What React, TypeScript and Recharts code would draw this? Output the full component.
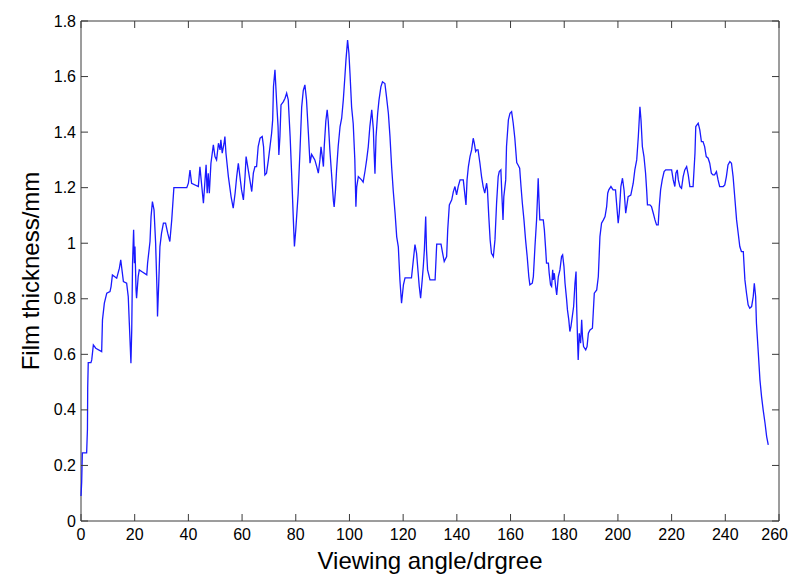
import React from 'react';
import { LineChart, Line, XAxis, YAxis, ReferenceArea } from 'recharts';

/* -------------------------------------------------------
   DATA
-------------------------------------------------------- */
const angle: number[] = [
  0, 0.25, 0.5, 2.1, 2.4, 2.5, 2.7, 3.7, 4.0, 4.6, 5.5, 7.7, 8.0, 8.7, 9.6, 10.8, 11.2, 11.7, 13.3, 14.3,
  14.8, 15.8, 17.0, 17.6, 18.0, 18.6, 18.9, 19.2, 19.6, 19.9, 20.1, 20.5, 20.7, 21.3, 21.7, 22.6, 24.5, 24.8, 25.7, 26.1,
  26.6, 27.2, 27.8, 28.4, 28.5, 29.0, 29.4, 30.0, 30.7, 31.5, 32.3, 33.1, 33.8, 34.6, 39.4, 40.0, 40.6, 41.2, 43.7, 44.3,
  45.6, 46.2, 46.6, 47.0, 47.4, 47.8, 48.4, 49.3, 49.9, 50.5, 51.2, 51.8, 52.1, 52.6, 53.3, 53.6, 54.0, 54.9, 55.9, 56.7,
  57.4, 58.0, 58.6, 59.2, 59.8, 60.5, 61.1, 61.5, 62.3, 62.9, 63.6, 64.2, 64.8, 65.4, 66.0, 66.7, 67.5, 68.0, 68.5, 69.1,
  69.8, 70.4, 71.0, 71.4, 71.7, 72.25, 72.9, 73.4, 73.7, 74.1, 74.5, 75.4, 76.0, 76.6, 77.2, 77.9, 78.5, 79.1, 79.5, 80.0,
  80.9, 81.6, 82.2, 82.8, 83.4, 84.0, 84.7, 85.3, 85.9, 86.5, 87.1, 87.8, 88.4, 89.0, 89.4, 89.9, 90.3, 90.6, 91.2, 91.7,
  92.1, 92.7, 93.4, 94.0, 94.3, 94.8, 95.2, 95.8, 96.5, 97.1, 97.7, 98.3, 98.7, 99.3, 99.8, 100.2, 100.8, 101.4, 102.0, 102.4,
  102.7, 103.3, 104.5, 105.1, 105.8, 106.4, 107.0, 107.6, 108.3, 108.9, 109.1, 109.5, 109.9, 110.5, 111.0, 111.7, 112.3, 113.2, 113.8, 114.5,
  115.1, 115.7, 116.3, 117.0, 117.6, 118.2, 118.8, 119.4, 120.1, 120.7, 123.1, 123.8, 124.4, 125.0, 125.6, 126.0, 126.5, 127.1, 127.5, 127.9,
  128.4, 128.7, 129.1, 130.0, 131.9, 132.5, 134.1, 134.7, 135.3, 136.2, 136.6, 137.2, 138.1, 138.7, 139.3, 139.9, 140.5, 141.2, 142.4, 143.0,
  143.4, 143.8, 144.3, 144.9, 145.5, 146.1, 146.5, 147.0, 147.4, 147.9, 148.6, 149.2, 149.8, 150.4, 151.1, 151.4, 151.9, 152.4, 152.9, 153.6,
  154.2, 154.8, 155.4, 155.8, 156.4, 156.8, 157.2, 157.5, 158.2, 158.5, 159.2, 159.8, 160.4, 161.0, 161.6, 162.3, 162.9, 163.4, 163.9, 164.4,
  165.0, 165.6, 166.2, 166.8, 167.2, 168.1, 168.5, 169.1, 169.7, 170.1, 170.3, 170.6, 170.9, 172.2, 172.6, 173.1, 173.4, 174.1, 174.4, 174.9,
  175.3, 175.7, 175.9, 176.3, 176.8, 177.2, 177.8, 178.4, 179.0, 179.4, 179.9, 180.3, 180.9, 181.2, 181.7, 182.1, 182.5, 183.0, 183.5, 184.0,
  184.4, 184.6, 185.0, 185.2, 185.6, 186.1, 186.5, 186.8, 187.2, 188.0, 188.5, 189.0, 189.6, 190.5, 190.8, 191.2, 192.1, 192.7, 193.3, 193.9,
  194.6, 195.2, 195.8, 196.2, 196.6, 197.4, 198.2, 199.1, 199.5, 200.1, 200.5, 201.1, 201.7, 202.3, 202.9, 203.8, 204.8, 205.7, 206.3, 207.0,
  207.6, 208.2, 208.6, 209.1, 209.7, 210.3, 210.7, 211.0, 211.9, 212.5, 213.2, 213.8, 214.4, 215.0, 215.4, 215.9, 216.5, 217.2, 217.8, 220.0,
  220.6, 221.2, 221.6, 222.1, 222.5, 223.1, 223.7, 224.3, 224.9, 225.6, 226.2, 226.8, 228.0, 228.7, 229.0, 229.9, 230.5, 231.1, 231.7, 232.3,
  232.9, 233.6, 234.2, 234.8, 235.4, 236.0, 236.7, 237.3, 237.9, 239.2, 239.8, 240.4, 241.0, 241.7, 242.3, 242.9, 243.5, 244.2, 244.8, 245.4,
  246.0, 246.7, 247.3, 247.9, 248.5, 249.1, 249.8, 250.4, 250.8, 251.3, 251.6, 252.3, 252.9, 253.5, 254.1, 254.8, 255.4, 256.0,
];

const thickness: number[] = [
  0.09, 0.14, 0.245, 0.245, 0.33, 0.48, 0.57, 0.57, 0.58, 0.634, 0.622, 0.61, 0.724, 0.784, 0.82, 0.826, 0.844, 0.886, 0.874, 0.91,
  0.94, 0.862, 0.856, 0.808, 0.712, 0.568, 0.688, 0.928, 1.048, 0.928, 0.988, 0.832, 0.802, 0.88, 0.904, 0.898, 0.886, 0.928, 1.006, 1.096,
  1.15, 1.12, 1.0, 0.8, 0.736, 0.868, 0.988, 1.036, 1.072, 1.072, 1.036, 1.006, 1.084, 1.2, 1.2, 1.216, 1.263, 1.216, 1.204, 1.275,
  1.144, 1.228, 1.282, 1.18, 1.252, 1.18, 1.288, 1.354, 1.312, 1.3, 1.36, 1.336, 1.372, 1.324, 1.36, 1.384, 1.324, 1.24, 1.168, 1.126,
  1.18, 1.24, 1.288, 1.24, 1.192, 1.156, 1.24, 1.312, 1.264, 1.228, 1.186, 1.252, 1.276, 1.276, 1.348, 1.378, 1.384, 1.348, 1.246, 1.252,
  1.3, 1.348, 1.396, 1.444, 1.564, 1.624, 1.504, 1.42, 1.318, 1.384, 1.498, 1.51, 1.522, 1.54, 1.516, 1.384, 1.24, 1.084, 0.988, 1.048,
  1.18, 1.34, 1.49, 1.55, 1.57, 1.516, 1.396, 1.288, 1.32, 1.31, 1.3, 1.276, 1.252, 1.3, 1.347, 1.31, 1.276, 1.347, 1.44, 1.48,
  1.44, 1.336, 1.24, 1.155, 1.131, 1.192, 1.264, 1.348, 1.42, 1.45, 1.515, 1.6, 1.66, 1.731, 1.683, 1.611, 1.49, 1.43, 1.3, 1.131,
  1.203, 1.24, 1.228, 1.22, 1.26, 1.3, 1.347, 1.42, 1.48, 1.41, 1.347, 1.25, 1.383, 1.467, 1.515, 1.563, 1.581, 1.575, 1.527, 1.467,
  1.383, 1.276, 1.19, 1.107, 1.023, 0.987, 0.867, 0.784, 0.85, 0.875, 0.875, 0.94, 0.995, 0.964, 0.892, 0.844, 0.802, 0.868, 0.916, 0.976,
  1.096, 0.976, 0.904, 0.868, 0.868, 0.997, 0.997, 0.964, 0.934, 0.952, 1.048, 1.138, 1.156, 1.186, 1.204, 1.174, 1.204, 1.228, 1.228, 1.174,
  1.138, 1.228, 1.276, 1.312, 1.336, 1.378, 1.36, 1.33, 1.336, 1.336, 1.288, 1.24, 1.204, 1.18, 1.216, 1.192, 1.096, 1.012, 0.964, 0.952,
  1.012, 1.144, 1.24, 1.258, 1.264, 1.168, 1.084, 1.168, 1.228, 1.348, 1.444, 1.468, 1.474, 1.432, 1.378, 1.29, 1.28, 1.27, 1.204, 1.144,
  1.084, 1.012, 0.952, 0.88, 0.85, 0.856, 0.88, 0.988, 1.084, 1.18, 1.234, 1.156, 1.084, 1.084, 1.048, 0.976, 0.928, 0.928, 0.892, 0.85,
  0.844, 0.904, 0.868, 0.892, 0.844, 0.814, 0.88, 0.904, 0.952, 0.958, 0.916, 0.856, 0.796, 0.76, 0.724, 0.682, 0.7, 0.736, 0.772, 0.856,
  0.898, 0.784, 0.64, 0.58, 0.676, 0.64, 0.724, 0.664, 0.628, 0.616, 0.628, 0.676, 0.688, 0.694, 0.748, 0.82, 0.832, 0.88, 1.024, 1.072,
  1.084, 1.096, 1.132, 1.18, 1.192, 1.204, 1.192, 1.192, 1.144, 1.072, 1.108, 1.204, 1.234, 1.19, 1.108, 1.168, 1.173, 1.216, 1.264, 1.3,
  1.384, 1.491, 1.443, 1.348, 1.312, 1.252, 1.192, 1.138, 1.138, 1.132, 1.107, 1.084, 1.066, 1.066, 1.132, 1.192, 1.228, 1.258, 1.264, 1.264,
  1.228, 1.204, 1.252, 1.264, 1.228, 1.204, 1.198, 1.24, 1.264, 1.276, 1.246, 1.204, 1.204, 1.324, 1.42, 1.432, 1.408, 1.366, 1.366, 1.348,
  1.312, 1.306, 1.288, 1.252, 1.246, 1.246, 1.258, 1.228, 1.204, 1.204, 1.21, 1.24, 1.282, 1.294, 1.288, 1.24, 1.168, 1.084, 1.036, 0.988,
  0.97, 0.97, 0.868, 0.82, 0.778, 0.766, 0.772, 0.808, 0.856, 0.808, 0.712, 0.604, 0.508, 0.448, 0.4, 0.352, 0.304, 0.274,
];

const xTicks: number[] = [0, 20, 40, 60, 80, 100, 120, 140, 160, 180, 200, 220, 240, 260];
const yTicks: number[] = [0, 0.2, 0.4, 0.6, 0.8, 1, 1.2, 1.4, 1.6, 1.8];

/* -------------------------------------------------------
   LAYOUT
-------------------------------------------------------- */
const W = 790;
const H = 574;
const PLOT_LEFT = 81;
const PLOT_RIGHT = 779;
const PLOT_TOP = 21;
const PLOT_BOTTOM = 521;
const TICK = 7;
const FONT = 'Arial, "Liberation Sans", Helvetica, sans-serif';
const AXIS_COLOR = '#3a3a3a';

const data = angle.map((a, i) => ({ angle: a, thickness: thickness[i] }));

// matlab style: inward ticks on bottom + top, label below
const XTick = ({ x, payload }: any) => {
  const last = payload.value === xTicks[xTicks.length - 1];
  return (
    <g>
      <line x1={x} x2={x} y1={PLOT_BOTTOM} y2={PLOT_BOTTOM - TICK} stroke={AXIS_COLOR} />
      <line x1={x} x2={x} y1={PLOT_TOP} y2={PLOT_TOP + TICK} stroke={AXIS_COLOR} />
      <text
        x={last ? W - 2 : x}
        y={PLOT_BOTTOM + 19}
        textAnchor={last ? 'end' : 'middle'}
        fontSize={16}
        fontFamily={FONT}
        fill="#000"
      >
        {payload.value}
      </text>
    </g>
  );
};

// inward ticks on left + right, label on the left
const YTick = ({ y, payload }: any) => (
  <g>
    <line x1={PLOT_LEFT} x2={PLOT_LEFT + TICK} y1={y} y2={y} stroke={AXIS_COLOR} />
    <line x1={PLOT_RIGHT} x2={PLOT_RIGHT - TICK} y1={y} y2={y} stroke={AXIS_COLOR} />
    <text x={PLOT_LEFT - 5} y={y} dy="0.35em" textAnchor="end" fontSize={16} fontFamily={FONT} fill="#000">
      {String(parseFloat(Number(payload.value).toFixed(1)))}
    </text>
  </g>
);

export default function App() {
  return (
    <div style={{ position: 'absolute', left: 0, top: 0, width: W, height: H, background: '#fff' }}>
      <LineChart
        width={W}
        height={H}
        data={data}
        margin={{ top: PLOT_TOP, right: W - PLOT_RIGHT, bottom: 0, left: 0 }}
      >
        <XAxis
          dataKey="angle"
          type="number"
          domain={[0, 260]}
          ticks={xTicks}
          interval={0}
          height={H - PLOT_BOTTOM}
          axisLine={false}
          tickLine={false}
          tickSize={0}
          tickMargin={0}
          tick={<XTick />}
        />
        <YAxis
          type="number"
          domain={[0, 1.8]}
          ticks={yTicks}
          interval={0}
          width={PLOT_LEFT}
          axisLine={false}
          tickLine={false}
          tickSize={0}
          tickMargin={0}
          tick={<YTick />}
        />
        <ReferenceArea x1={0} x2={260} y1={0} y2={1.8} fill="none" fillOpacity={0} stroke={AXIS_COLOR} strokeWidth={1} />
        <Line
          type="linear"
          dataKey="thickness"
          stroke="#1a1aff"
          strokeWidth={1.3}
          dot={false}
          activeDot={false}
          isAnimationActive={false}
        />
      </LineChart>
      <div
        style={{
          position: 'absolute',
          left: 230,
          top: 549,
          width: 400,
          height: 24,
          lineHeight: '24px',
          textAlign: 'center',
          fontSize: 24,
          fontFamily: FONT,
          color: '#000',
          whiteSpace: 'nowrap',
        }}
      >
        Viewing angle/drgree
      </div>
      <div
        style={{
          position: 'absolute',
          left: 31 - 150,
          top: 271 - 12,
          width: 300,
          height: 24,
          lineHeight: '24px',
          textAlign: 'center',
          fontSize: 24,
          fontFamily: FONT,
          color: '#000',
          whiteSpace: 'nowrap',
          transform: 'rotate(-90deg)',
          transformOrigin: '150px 12px',
        }}
      >
        Film thickness/mm
      </div>
    </div>
  );
}
